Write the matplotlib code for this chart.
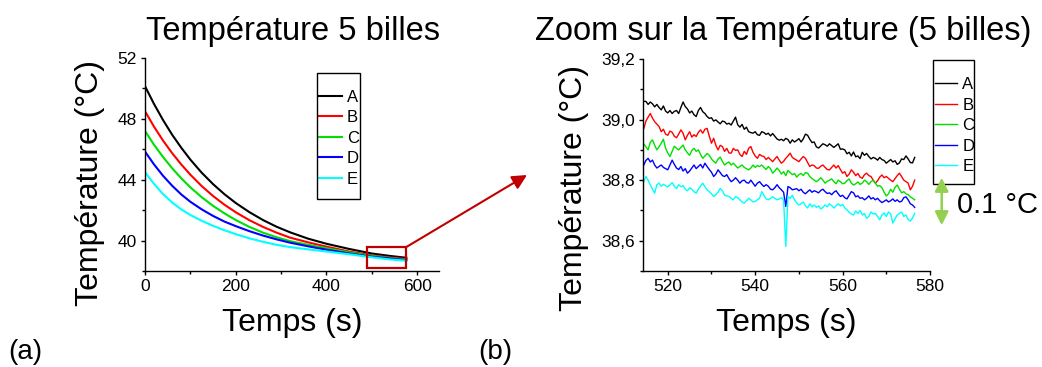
import numpy as np
import matplotlib
matplotlib.use("Agg")
import matplotlib.pyplot as plt
from matplotlib.patches import Rectangle, FancyArrowPatch
from matplotlib.ticker import MultipleLocator, FuncFormatter

plt.rcParams['font.family'] = ['Liberation Sans', 'DejaVu Sans']

# ---- data ----
labels = ["A", "B", "C", "D", "E"]
colors = ["#000000", "#ff0000", "#00e000", "#0000ff", "#00ffff"]

# (a) full cooling curves
t_full = [0, 20, 40, 60, 80, 100, 125, 150, 175, 200, 230, 260, 290, 320, 360, 400, 450, 500, 540, 576]
full_A = [50.15, 48.97, 47.91, 46.95, 46.10, 45.32, 44.46, 43.71, 43.05, 42.47, 41.87, 41.35, 40.91, 40.54, 40.12, 39.79, 39.45, 39.15, 38.99, 38.87]
full_B = [48.50, 47.48, 46.56, 45.74, 45.00, 44.33, 43.58, 42.93, 42.36, 41.86, 41.34, 40.90, 40.52, 40.19, 39.88, 39.60, 39.28, 39.03, 38.89, 38.79]
full_C = [47.20, 46.29, 45.48, 44.75, 44.09, 43.50, 42.85, 42.28, 41.79, 41.35, 40.90, 40.52, 40.22, 39.96, 39.72, 39.50, 39.22, 38.99, 38.85, 38.74]
full_D = [45.85, 45.00, 44.25, 43.60, 43.03, 42.55, 42.05, 41.62, 41.25, 40.95, 40.62, 40.33, 40.08, 39.86, 39.62, 39.40, 39.15, 38.94, 38.82, 38.71]
full_E = [44.50, 43.72, 43.05, 42.50, 42.05, 41.68, 41.30, 40.97, 40.68, 40.42, 40.15, 39.92, 39.72, 39.57, 39.42, 39.28, 39.10, 38.90, 38.76, 38.68]

# (b) zoom, one reading every 0.5 s from 514.5 s to 576.5 s
t_zoom = np.arange(514.5, 576.75, 0.5)
zoom_A = [39.060, 39.060, 39.050, 39.058, 39.052, 39.042, 39.050, 39.040, 39.032, 39.045,
          39.028, 39.022, 39.030, 39.020, 39.027, 39.030, 39.020, 39.040, 39.058, 39.043,
          39.035, 39.022, 39.028, 39.016, 39.010, 39.030, 39.040, 39.026, 39.020, 39.010,
          39.004, 39.006, 38.995, 38.999, 38.992, 38.986, 38.995, 38.993, 38.985, 38.988,
          38.982, 38.995, 39.008, 38.983, 38.975, 38.984, 38.968, 38.975, 38.960, 38.957,
          38.955, 38.960, 38.950, 38.948, 38.960, 38.957, 38.951, 38.955, 38.946, 38.954,
          38.945, 38.936, 38.932, 38.935, 38.930, 38.938, 38.934, 38.922, 38.933, 38.926,
          38.931, 38.937, 38.926, 38.936, 38.952, 38.948, 38.935, 38.924, 38.926, 38.910,
          38.906, 38.913, 38.920, 38.917, 38.912, 38.920, 38.914, 38.908, 38.914, 38.920,
          38.902, 38.903, 38.900, 38.887, 38.892, 38.880, 38.893, 38.877, 38.880, 38.871,
          38.892, 38.882, 38.888, 38.878, 38.870, 38.875, 38.872, 38.866, 38.875, 38.868,
          38.865, 38.856, 38.862, 38.868, 38.860, 38.864, 38.852, 38.857, 38.870, 38.868,
          38.880, 38.870, 38.858, 38.857, 38.875]
zoom_B = [38.970, 38.995, 39.008, 39.020, 39.005, 38.993, 38.985, 38.977, 38.960, 38.968,
          38.952, 38.948, 38.962, 38.958, 38.945, 38.940, 38.952, 38.966, 38.955, 38.933,
          38.948, 38.960, 38.942, 38.950, 38.944, 38.958, 38.966, 38.955, 38.968, 38.971,
          38.945, 38.922, 38.938, 38.915, 38.900, 38.915, 38.911, 38.895, 38.905, 38.890,
          38.889, 38.905, 38.898, 38.900, 38.885, 38.878, 38.895, 38.885, 38.905, 38.911,
          38.892, 38.880, 38.872, 38.885, 38.880, 38.878, 38.868, 38.875, 38.868, 38.861,
          38.870, 38.878, 38.866, 38.856, 38.862, 38.872, 38.880, 38.889, 38.875, 38.870,
          38.866, 38.861, 38.870, 38.878, 38.872, 38.858, 38.845, 38.850, 38.848, 38.840,
          38.839, 38.846, 38.850, 38.842, 38.835, 38.834, 38.842, 38.850, 38.840, 38.848,
          38.835, 38.823, 38.828, 38.812, 38.820, 38.834, 38.826, 38.815, 38.822, 38.810,
          38.806, 38.818, 38.823, 38.815, 38.812, 38.800, 38.790, 38.798, 38.810, 38.817,
          38.808, 38.812, 38.806, 38.800, 38.795, 38.805, 38.815, 38.823, 38.812, 38.800,
          38.795, 38.790, 38.768, 38.780, 38.800]
zoom_C = [38.920, 38.910, 38.900, 38.925, 38.933, 38.915, 38.900, 38.910, 38.922, 38.935,
          38.905, 38.890, 38.878, 38.895, 38.912, 38.905, 38.900, 38.908, 38.916, 38.900,
          38.890, 38.882, 38.898, 38.905, 38.895, 38.900, 38.885, 38.872, 38.880, 38.888,
          38.882, 38.870, 38.862, 38.856, 38.870, 38.876, 38.862, 38.850, 38.856, 38.860,
          38.850, 38.856, 38.848, 38.840, 38.845, 38.850, 38.842, 38.838, 38.834, 38.840,
          38.850, 38.842, 38.848, 38.845, 38.850, 38.842, 38.835, 38.845, 38.838, 38.823,
          38.830, 38.840, 38.832, 38.820, 38.828, 38.815, 38.832, 38.825, 38.818, 38.822,
          38.810, 38.818, 38.822, 38.815, 38.825, 38.823, 38.812, 38.805, 38.800, 38.795,
          38.800, 38.808, 38.800, 38.790, 38.796, 38.800, 38.804, 38.795, 38.788, 38.800,
          38.795, 38.788, 38.790, 38.798, 38.804, 38.790, 38.784, 38.788, 38.794, 38.786,
          38.790, 38.800, 38.795, 38.786, 38.795, 38.800, 38.790, 38.780, 38.782, 38.775,
          38.760, 38.748, 38.755, 38.770, 38.760, 38.776, 38.784, 38.770, 38.758, 38.762,
          38.755, 38.752, 38.745, 38.740, 38.735]
zoom_D = [38.850, 38.865, 38.872, 38.860, 38.866, 38.850, 38.840, 38.845, 38.850, 38.842,
          38.838, 38.834, 38.850, 38.866, 38.852, 38.840, 38.835, 38.845, 38.830, 38.838,
          38.823, 38.830, 38.840, 38.850, 38.838, 38.845, 38.852, 38.840, 38.856, 38.845,
          38.835, 38.826, 38.812, 38.820, 38.834, 38.825, 38.815, 38.812, 38.818, 38.805,
          38.795, 38.800, 38.808, 38.800, 38.790, 38.798, 38.800, 38.792, 38.790, 38.800,
          38.790, 38.780, 38.790, 38.795, 38.786, 38.779, 38.785, 38.780, 38.770, 38.768,
          38.775, 38.785, 38.775, 38.768, 38.760, 38.713, 38.779, 38.775, 38.768, 38.770,
          38.772, 38.765, 38.770, 38.760, 38.755, 38.762, 38.768, 38.760, 38.765, 38.762,
          38.758, 38.766, 38.770, 38.762, 38.756, 38.758, 38.752, 38.760, 38.765, 38.755,
          38.746, 38.750, 38.742, 38.738, 38.750, 38.762, 38.758, 38.745, 38.748, 38.740,
          38.742, 38.735, 38.740, 38.748, 38.738, 38.742, 38.735, 38.740, 38.732, 38.726,
          38.730, 38.735, 38.728, 38.732, 38.738, 38.730, 38.735, 38.728, 38.730, 38.742,
          38.745, 38.735, 38.722, 38.718, 38.710]
zoom_E = [38.795, 38.812, 38.800, 38.784, 38.770, 38.757, 38.785, 38.790, 38.780, 38.786,
          38.782, 38.778, 38.784, 38.792, 38.780, 38.772, 38.785, 38.778, 38.782, 38.770,
          38.765, 38.775, 38.770, 38.762, 38.757, 38.770, 38.780, 38.790, 38.778, 38.768,
          38.762, 38.755, 38.746, 38.752, 38.760, 38.773, 38.765, 38.750, 38.748, 38.746,
          38.740, 38.735, 38.745, 38.742, 38.735, 38.728, 38.724, 38.732, 38.740, 38.735,
          38.728, 38.730, 38.735, 38.740, 38.762, 38.750, 38.738, 38.735, 38.740, 38.745,
          38.740, 38.735, 38.738, 38.742, 38.735, 38.581, 38.745, 38.740, 38.750, 38.735,
          38.725, 38.718, 38.722, 38.728, 38.715, 38.708, 38.722, 38.712, 38.718, 38.710,
          38.715, 38.705, 38.710, 38.718, 38.712, 38.722, 38.716, 38.708, 38.715, 38.722,
          38.715, 38.720, 38.708, 38.702, 38.694, 38.688, 38.685, 38.698, 38.690, 38.700,
          38.685, 38.690, 38.674, 38.680, 38.695, 38.688, 38.690, 38.680, 38.669, 38.685,
          38.692, 38.680, 38.695, 38.688, 38.658, 38.672, 38.685, 38.690, 38.695, 38.680,
          38.685, 38.670, 38.665, 38.675, 38.690]

full_series = [full_A, full_B, full_C, full_D, full_E]
zoom_series = [zoom_A, zoom_B, zoom_C, zoom_D, zoom_E]

W, H = 1042, 367
fig = plt.figure(figsize=(W / 100, H / 100), dpi=100)

ax1 = fig.add_axes([145 / W, 1 - 271 / H, 294 / W, 213 / H])
ax2 = fig.add_axes([643.3 / W, 1 - 271 / H, 286.7 / W, 212 / H])

for vals, lab, c in zip(full_series, labels, colors):
    ax1.plot(t_full, vals, color=c, lw=1.5, label=lab)
for vals, lab, c in zip(zoom_series, labels, colors):
    ax2.plot(t_zoom, vals, color=c, lw=1.0, label=lab)

ax1.set_xlim(0, 648)
ax1.set_ylim(38, 52)
ax1.xaxis.set_major_locator(MultipleLocator(200))
ax1.xaxis.set_minor_locator(MultipleLocator(100))
ax1.yaxis.set_major_locator(MultipleLocator(4))
ax1.yaxis.set_minor_locator(MultipleLocator(2))

ax2.set_xlim(514.4, 580)
ax2.set_ylim(38.5, 39.2)
ax2.xaxis.set_major_locator(MultipleLocator(20))
ax2.xaxis.set_minor_locator(MultipleLocator(10))
ax2.yaxis.set_major_locator(MultipleLocator(0.2))
ax2.yaxis.set_minor_locator(MultipleLocator(0.1))
ax2.yaxis.set_major_formatter(FuncFormatter(lambda v, p: f"{v:.1f}".replace(".", ",")))

for ax in (ax1, ax2):
    ax.spines['top'].set_visible(False)
    ax.spines['right'].set_visible(False)
    for s in ('left', 'bottom'):
        ax.spines[s].set_linewidth(1.0)
    ax.tick_params(which='major', direction='out', length=3, width=1, pad=3, labelsize=12.5)
    ax.tick_params(which='minor', direction='out', length=2, width=1)

# zoom box and arrow on (a)
ax1.add_patch(Rectangle((489.7, 38.20), 85.4, 1.36, fill=False, edgecolor='#c00000',
                        lw=1.6, clip_on=False, zorder=5))
ax1.annotate('', xy=(527 / W, 1 - 175 / H), xycoords='figure fraction',
             xytext=(575.1, 39.56), textcoords='data', annotation_clip=False,
             arrowprops=dict(arrowstyle='-|>', color='#c00000', lw=1.5,
                             mutation_scale=22, shrinkA=0, shrinkB=0))

# legends with Origin-like boxes
fontleg = 12
ax1.legend(loc='center left', bbox_to_anchor=(317 / W, 1 - 138.3 / H),
           bbox_transform=fig.transFigure, frameon=False, fontsize=fontleg,
           handlelength=1.38, handletextpad=0.3, labelspacing=0.33, borderpad=0.1,
           borderaxespad=0)
fig.add_artist(Rectangle((316.7 / W, 1 - 199 / H), 43.3 / W, 125.7 / H,
                         transform=fig.transFigure, fill=False, ec='k', lw=1))
ax2.legend(loc='center left', bbox_to_anchor=(933 / W, 1 - 125.8 / H),
           bbox_transform=fig.transFigure, frameon=False, fontsize=fontleg,
           handlelength=1.35, handletextpad=0.3, labelspacing=0.33, borderpad=0.1,
           borderaxespad=0)
fig.add_artist(Rectangle((933 / W, 1 - 184 / H), 41 / W, 124 / H,
                         transform=fig.transFigure, fill=False, ec='k', lw=1))

# 0.1 degC scale bar
fig.add_artist(FancyArrowPatch((941.7 / W, 1 - 175 / H), (941.7 / W, 1 - 228 / H),
                               transform=fig.transFigure, arrowstyle='<|-|>',
                               mutation_scale=20, color='#92d050', lw=1.8))
fig.text(956.7 / W, 1 - 212.7 / H, "0.1 °C", fontsize=21, ha='left', va='baseline')

# titles and axis labels
fig.text(292.5 / W, 1 - 40 / H, "Température 5 billes", fontsize=23.5,
         ha='center', va='baseline')
fig.text(783 / W, 1 - 40 / H, "Zoom sur la Température (5 billes)", fontsize=23.5,
         ha='center', va='baseline')
fig.text(292 / W, 1 - 331 / H, "Temps (s)", fontsize=23, ha='center', va='baseline')
fig.text(786.5 / W, 1 - 331 / H, "Temps (s)", fontsize=23, ha='center', va='baseline')
fig.text(90 / W, 1 - 183.5 / H, "Température (°C)", fontsize=23, rotation=90,
         ha='center', va='center')
fig.text(574 / W, 1 - 188 / H, "Température (°C)", fontsize=23, rotation=90,
         ha='center', va='center')

fig.text(8 / W, 1 - 359 / H, "(a)", fontsize=20, ha='left', va='baseline')
fig.text(478 / W, 1 - 359 / H, "(b)", fontsize=20, ha='left', va='baseline')

fig.savefig("out.png", dpi=100)
